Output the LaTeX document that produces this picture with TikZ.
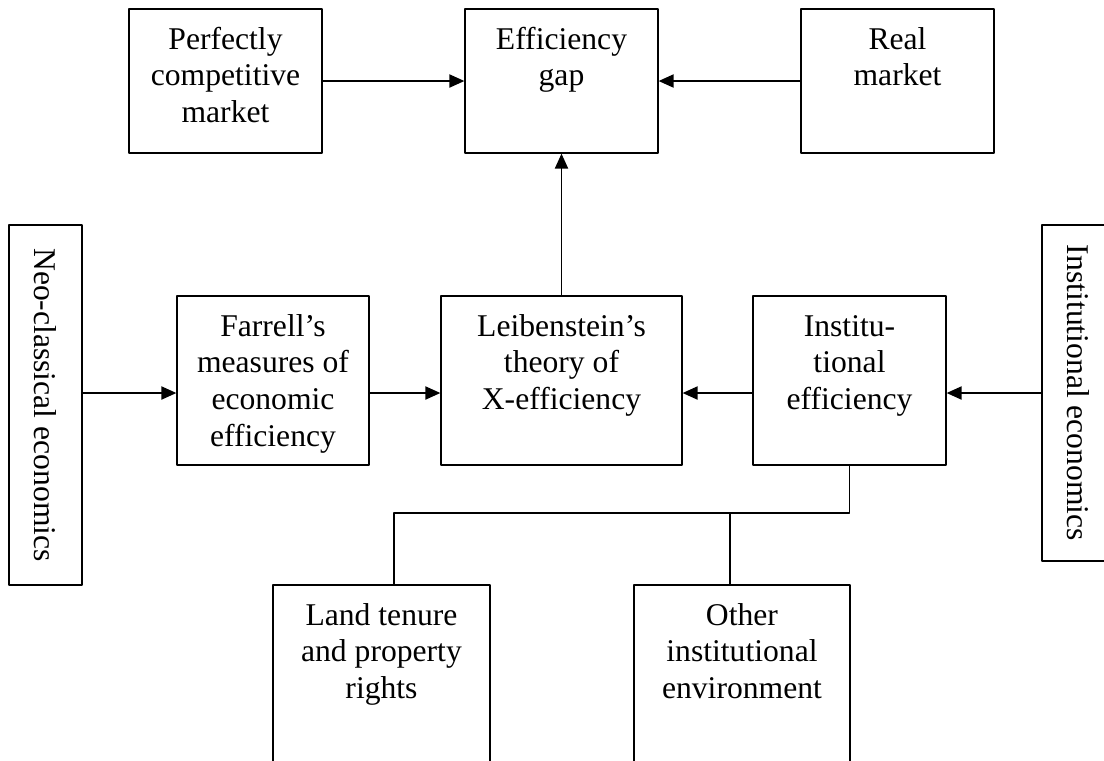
\documentclass[tikz,border=0pt]{standalone}
\usepackage{graphicx}
\usepackage{fontspec}
\setmainfont{Liberation Serif}
\usetikzlibrary{arrows.meta}
\tikzset{
  every picture/.style={line join=round, >={Triangle[length=8.5pt,width=7.5pt]}},
  box/.style={draw, line width=0.75pt, align=flush center, inner sep=0pt, text height=0.8cm},
  sidebox/.style={draw, line width=0.75pt, inner sep=0pt, minimum width=1.46cm},
  link/.style={line width=0.75pt},
}
\begin{document}
\begin{tikzpicture}[font=\fontsize{18pt}{21pt}\selectfont]
\useasboundingbox(0,0)rectangle(22.08,-15.2);
\clip(0,0)rectangle(22.08,-15.2);
\node[box,text width=3.86cm,text depth=2.08cm](perfect)at(4.51,-1.62){Perfectly\\competitive\\market};
\node[box,text width=3.86cm,text depth=2.08cm](gap)at(11.23,-1.62){Efficiency\\gap};
\node[box,text width=3.86cm,text depth=2.08cm](real)at(17.95,-1.62){Real\\market};
\node[sidebox,minimum height=7.2cm](neo)at(0.91,-8.1){\rotatebox{-90}{Neo-classical economics}};
\node[box,text width=3.84cm,text depth=2.58cm](farrell)at(5.46,-7.61){Farrell's\\measures of\\economic\\efficiency};
\node[box,text width=4.82cm,text depth=2.58cm](leib)at(11.23,-7.61){Leibenstein's\\theory of\\X-efficiency};
\node[box,text width=3.86cm,text depth=2.58cm](insteff)at(16.99,-7.61){Institu-\\tional\\efficiency};
\node[sidebox,minimum height=6.72cm](instecon)at(21.57,-7.86){\rotatebox{-90}{Institutional economics}};
\node[box,text width=4.34cm,text depth=3.2cm](land)at(7.63,-13.7){Land tenure\\and property\\rights};
\node[box,text width=4.32cm,text depth=3.2cm](other)at(14.84,-13.7){Other\\institutional\\environment};
\coordinate(row)at(0,-7.86);
\coordinate(bar)at(0,-10.26);
\draw[link,->](perfect)--(gap);
\draw[link,->](real)--(gap);
\draw[link,->](leib)--(gap);
\draw[link,->](neo.east|-row)--(farrell.west|-row);
\draw[link,->](farrell.east|-row)--(leib.west|-row);
\draw[link,->](insteff.west|-row)--(leib.east|-row);
\draw[link,->](instecon.west|-row)--(insteff.east|-row);
\draw[link](insteff.south)--(insteff.south|-bar)-|([xshift=0.25cm]land.north);
\draw[link]([xshift=-0.24cm]other.north)--([xshift=-0.24cm]other.north|-bar);
\end{tikzpicture}
\end{document}
